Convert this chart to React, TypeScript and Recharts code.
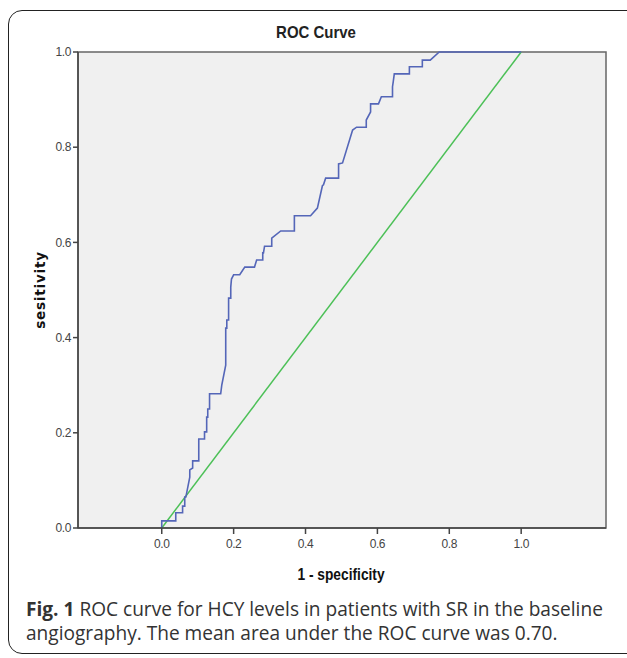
import React from "react";
import {
  LineChart,
  Line,
  XAxis,
  YAxis,
  ReferenceArea,
} from "recharts";

// ROC curve points (1 - specificity, sensitivity)
const fpr = [
  0, 0, 0.039, 0.039, 0.058, 0.058, 0.064, 0.064, 0.067, 0.078, 0.078, 0.086, 0.086,
  0.103, 0.103, 0.119, 0.119, 0.125, 0.125, 0.128, 0.128, 0.133, 0.133, 0.164, 0.167,
  0.178, 0.178, 0.181, 0.181, 0.186, 0.186, 0.192, 0.192, 0.194, 0.2, 0.217, 0.231,
  0.258, 0.264, 0.281, 0.281, 0.283, 0.286, 0.306, 0.306, 0.331, 0.369, 0.369, 0.414,
  0.433, 0.447, 0.45, 0.456, 0.492, 0.492, 0.503, 0.531, 0.542, 0.569, 0.569, 0.581,
  0.581, 0.603, 0.611, 0.642, 0.642, 0.644, 0.647, 0.689, 0.689, 0.725, 0.725, 0.747,
  0.772, 1,
];
const tpr = [
  0, 0.015, 0.015, 0.032, 0.032, 0.046, 0.046, 0.065, 0.065, 0.107, 0.122, 0.126, 0.141,
  0.141, 0.187, 0.187, 0.202, 0.202, 0.233, 0.233, 0.25, 0.25, 0.282, 0.282, 0.3,
  0.342, 0.42, 0.42, 0.437, 0.437, 0.483, 0.483, 0.506, 0.523, 0.532, 0.532, 0.548,
  0.548, 0.563, 0.563, 0.578, 0.578, 0.592, 0.592, 0.609, 0.624, 0.624, 0.656, 0.656,
  0.672, 0.719, 0.721, 0.735, 0.735, 0.765, 0.767, 0.836, 0.842, 0.842, 0.857, 0.874,
  0.891, 0.891, 0.906, 0.906, 0.927, 0.937, 0.954, 0.954, 0.969, 0.969, 0.983, 0.983,
  1, 1,
];
const refX = [0, 1];
const refY = [0, 1];
const xTicks = [0, 0.2, 0.4, 0.6, 0.8, 1.0];
const yTicks = [0, 0.2, 0.4, 0.6, 0.8, 1.0];

const rocData = fpr.map((x, i) => ({ x, y: tpr[i] }));
const diagData = refX.map((x, i) => ({ x, y: refY[i] }));

const arial = "'Liberation Sans', Arial, sans-serif";
const tickStyle = { fontSize: 12, fill: "#444", fontFamily: arial, letterSpacing: -0.4 };

export default function App() {
  return (
    <div
      style={{
        position: "absolute",
        left: 0,
        top: 0,
        width: 627,
        height: 658,
        overflow: "hidden",
        background: "#fff",
      }}
    >
      <div
        style={{
          position: "absolute",
          left: 8,
          top: 10,
          width: 660,
          height: 644,
          border: "1.5px solid #222",
          borderRadius: 14,
          boxSizing: "border-box",
        }}
      />
      <div
        style={{
          position: "absolute",
          left: 316,
          top: 23,
          transform: "translateX(-50%) scaleX(0.88)",
          fontFamily: arial,
          fontWeight: "bold",
          fontSize: 17,
          color: "#222",
          whiteSpace: "nowrap",
        }}
      >
        ROC Curve
      </div>
      <div style={{ position: "absolute", left: 0, top: 0 }}>
        <LineChart
          width={627}
          height={658}
          margin={{ top: 52, right: 21, left: 38, bottom: 100 }}
        >
          <XAxis
            dataKey="x"
            type="number"
            domain={[-0.233, 1.236]}
            allowDataOverflow
            ticks={xTicks}
            tickFormatter={(v: number) => v.toFixed(1)}
            tick={tickStyle}
            tickSize={6}
            tickMargin={5}
            axisLine={{ stroke: "#444", strokeWidth: 1.5 }}
            tickLine={{ stroke: "#444", strokeWidth: 1.5 }}
            height={30}
          />
          <YAxis
            dataKey="y"
            type="number"
            domain={[0, 1]}
            ticks={yTicks}
            tickFormatter={(v: number) => v.toFixed(1)}
            tick={tickStyle}
            tickSize={5}
            tickMargin={2}
            axisLine={{ stroke: "#444", strokeWidth: 1.5 }}
            tickLine={{ stroke: "#444", strokeWidth: 1.5 }}
            width={40}
          />
          <ReferenceArea
            x1={-0.233}
            x2={1.236}
            y1={0}
            y2={1}
            fill="#f0f0f0"
            fillOpacity={1}
            stroke="#666"
            strokeWidth={1.5}
          />
          <Line
            data={diagData}
            dataKey="y"
            type="linear"
            stroke="#4cc057"
            strokeWidth={1.5}
            dot={false}
            isAnimationActive={false}
          />
          <Line
            data={rocData}
            dataKey="y"
            type="linear"
            stroke="#5466b8"
            strokeWidth={1.6}
            dot={false}
            isAnimationActive={false}
          />
        </LineChart>
      </div>
      <div
        style={{
          position: "absolute",
          left: 40,
          top: 290,
          transform: "translate(-50%, -50%) rotate(-90deg)",
          fontFamily: "'DejaVu Sans', sans-serif",
          fontWeight: "bold",
          fontSize: 13.5,
          letterSpacing: 0.8,
          color: "#111",
          whiteSpace: "nowrap",
        }}
      >
        sesitivity
      </div>
      <div
        style={{
          position: "absolute",
          left: 341,
          top: 566,
          transform: "translateX(-50%) scaleX(0.86)",
          fontFamily: arial,
          fontWeight: "bold",
          fontSize: 16,
          color: "#111",
          whiteSpace: "nowrap",
        }}
      >
        1 - specificity
      </div>
      <div
        style={{
          position: "absolute",
          left: 26,
          top: 597,
          width: 596,
          fontFamily: "'Open Sans', sans-serif",
          fontSize: 19.1,
          lineHeight: "24px",
          color: "#333",
        }}
      >
        <b>Fig. 1</b> ROC curve for HCY levels in patients with SR in the baseline angiography.
        The mean area under the ROC curve was 0.70.
      </div>
    </div>
  );
}
